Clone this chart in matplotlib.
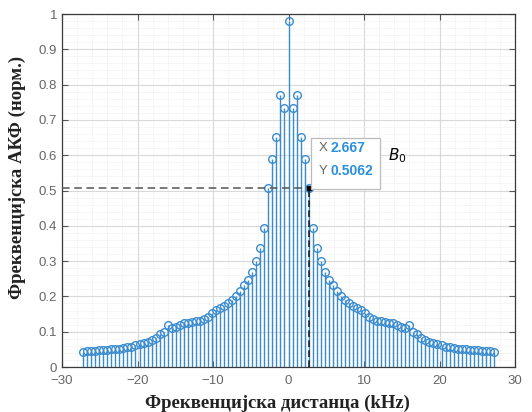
import numpy as np
import matplotlib
matplotlib.use("Agg")
import matplotlib.pyplot as plt
from matplotlib.ticker import MultipleLocator

# korak po frekvenciji (kHz)
df = 8 / 15

# desna polovina AKF (k = 0 .. 51), leva je simetricna
akf_desno = [0.98, 0.735, 0.77, 0.652, 0.588, 0.506, 0.393, 0.336, 0.299, 0.269,
             0.246, 0.231, 0.215, 0.201, 0.191, 0.181, 0.172, 0.166, 0.162, 0.152,
             0.142, 0.135, 0.131, 0.130, 0.128, 0.126, 0.124, 0.120, 0.113, 0.110,
             0.118, 0.100, 0.093, 0.083, 0.077, 0.072, 0.068, 0.064, 0.061, 0.058,
             0.056, 0.054, 0.052, 0.051, 0.050, 0.049, 0.048, 0.047, 0.046, 0.045,
             0.044, 0.042]

N = len(akf_desno) - 1
k = np.arange(-N, N + 1)
f = k * df
akf = np.array(akf_desno[:0:-1] + akf_desno)

tip_x = 2.667
tip_y = 0.5062

xticks = [-30, -20, -10, 0, 10, 20, 30]
yticks = [0, 0.1, 0.2, 0.3, 0.4, 0.5, 0.6, 0.7, 0.8, 0.9, 1]
ytick_lab = ["0", "0.1", "0.2", "0.3", "0.4", "0.5", "0.6", "0.7", "0.8", "0.9", "1"]

plavo = "#3a8cd0"
siva = "#555555"

fig = plt.figure(figsize=(5.32, 4.12), dpi=100)
ax = fig.add_axes([62 / 532, 45 / 412, 453 / 532, 353 / 412])

ax.vlines(f, 0, akf, color=plavo, linewidth=1.0, zorder=3)
ax.plot(f, akf, linestyle="none", marker="o", markersize=5.5,
        markerfacecolor="none", markeredgecolor=plavo, markeredgewidth=1.0, zorder=4)

# isprekidane linije do tacke B0
ax.plot([-30, tip_x], [tip_y, tip_y], linestyle=(0, (5, 3)), color="#555555", linewidth=1.1, zorder=5)
ax.plot([tip_x, tip_x], [0, tip_y], linestyle=(0, (4, 2)), color="#222222", linewidth=1.2, zorder=5)
ax.plot([tip_x], [tip_y], marker="s", markersize=3.5, color="black", zorder=6)

ax.set_xlim(-30, 30)
ax.set_ylim(0, 1)
ax.set_xticks(xticks)
ax.set_yticks(yticks)
ax.set_yticklabels(ytick_lab)
ax.xaxis.set_minor_locator(MultipleLocator(2))
ax.yaxis.set_minor_locator(MultipleLocator(0.02))
ax.grid(which="major", color="#d9d9d9", linewidth=0.8)
ax.grid(which="minor", color="#ececec", linewidth=0.6, linestyle=(0, (1, 1)))
ax.set_axisbelow(True)
ax.tick_params(which="both", direction="in", top=True, right=True, colors=siva,
               labelsize=9.5, labelcolor="#666666", labelfontfamily="Liberation Sans")
ax.tick_params(which="major", length=4, width=0.8)
ax.tick_params(which="minor", length=0)
ax.tick_params(axis="x", pad=6)
for s in ax.spines.values():
    s.set_color("#3a3a3a")
    s.set_linewidth(0.9)

ax.set_xlabel("Фреквенцијска дистанца (kHz)", fontsize=13.5, fontweight="bold",
              family="Liberation Serif", color="#222222")
ax.set_ylabel("Фреквенцијска АКФ (норм.)", fontsize=13.5, fontweight="bold",
              family="Liberation Serif", color="#222222")
ax.xaxis.set_label_coords(0.475, -0.078)
ax.yaxis.set_label_coords(-0.08, 0.537)

# okvir sa vrednostima tacke
ax.add_patch(plt.Rectangle((3.0, 0.505), 9.1, 0.145, facecolor="white",
                           edgecolor="#bbbbbb", linewidth=0.9, zorder=7))
ax.text(4.0, 0.62, "X", fontsize=9.5, color="#666666",
        family="Liberation Sans", va="center", zorder=8)
ax.text(5.5, 0.62, "2.667", fontsize=10, color="#2b8fe0", fontweight="bold",
        family="Liberation Sans", va="center", zorder=8)
ax.text(4.0, 0.555, "Y", fontsize=9.5, color="#666666",
        family="Liberation Sans", va="center", zorder=8)
ax.text(5.5, 0.555, "0.5062", fontsize=10, color="#2b8fe0", fontweight="bold",
        family="Liberation Sans", va="center", zorder=8)

ax.text(13.2, 0.60, r"$B_0$", fontsize=11, color="black", va="center",
        family="DejaVu Sans", style="italic", zorder=8)

fig.savefig("out.png", dpi=100)
